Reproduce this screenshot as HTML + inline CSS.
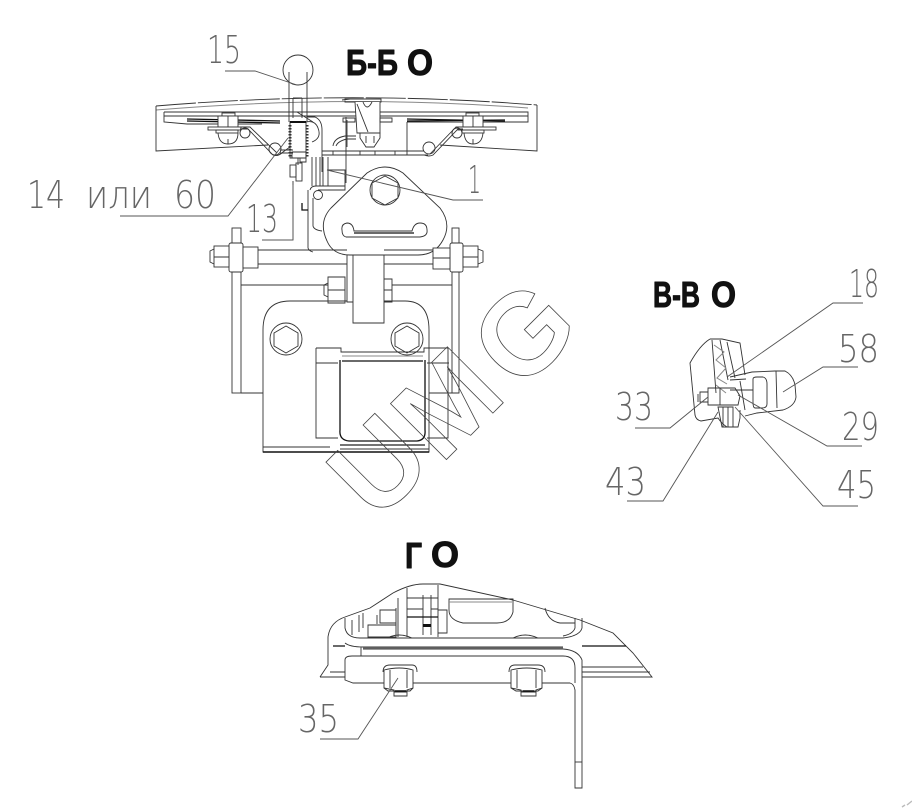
<!DOCTYPE html>
<html>
<head>
<meta charset="utf-8">
<style>
html,body{margin:0;padding:0;background:#fff;width:912px;height:808px;overflow:hidden}
svg{display:block}
.l{font-family:"DejaVu Sans ExtraLight","DejaVu Sans Light","Liberation Sans",sans-serif;font-size:38px;fill:#666}
.t{font-family:"Liberation Sans","DejaVu Sans",sans-serif;font-weight:bold;font-size:36px;fill:#111;stroke:#111;stroke-width:1;stroke-linejoin:round}
.c{fill:none;stroke:#333;stroke-width:.9}
.g{fill:none;stroke:#888;stroke-width:1}
.k{fill:none;stroke:#111;stroke-width:1.3}
.w{fill:#fff;stroke:#333;stroke-width:.9}
.ld{fill:none;stroke:#555;stroke-width:.9}
.wm{font-family:"Liberation Sans",sans-serif;font-weight:bold;font-size:115px;fill:none;stroke:#444;stroke-width:.8}
</style>
</head>
<body>
<svg width="912" height="808" viewBox="0 0 912 808" xmlns="http://www.w3.org/2000/svg">

<!-- ===== Б-Б view ===== -->
<g class="c">
<!-- shield -->
<path d="M156,106Q347,90 537,105" stroke-dasharray="40 2"/>
<path class="g" d="M156,110Q347,94 528,108"/>
<path d="M156,106V151Q210,148 268,145"/>
<path d="M537,105V151Q490,148 440,145"/>
<!-- plate -->
<path d="M164,112H528V122H407M164,116H528M164,112V122L187,124H262"/>
</g>
<path class="k" d="M187,119L280,121M187,121L280,123"/>
<path class="k" d="M407,119L505,121M407,121L505,120"/>

<!-- left bolt + wire -->
<g class="c">
<rect x="222" y="113" width="13" height="3"/>
<rect x="218" y="116" width="20" height="11" fill="#fff"/>
<path d="M228,116V127"/>
<rect x="208" y="127" width="33" height="3" fill="#fff"/>
<rect x="216" y="130" width="22" height="3"/>
<path d="M218,133Q219,144 228,144Q238,144 238,133M228,144V139"/>
<circle cx="245" cy="133" r="5"/>
<circle cx="275" cy="149" r="6"/>
<path d="M240,127H250L277,153M240,129H248L273,155Q278,157 283,152L290,147"/>
<path d="M280,150H293M280,153H293"/>
<!-- right bolt + wire -->
<rect x="466" y="113" width="13" height="3"/>
<rect x="463" y="116" width="20" height="11" fill="#fff"/>
<path d="M473,116V127"/>
<rect x="458" y="127" width="38" height="3" fill="#fff"/>
<rect x="462" y="130" width="22" height="3"/>
<path d="M464,133Q465,144 473,144Q482,144 483,133M473,144V139"/>
<circle cx="457" cy="133" r="5"/>
<circle cx="429" cy="148" r="6"/>
<path d="M463,127H456L430,154M463,129H458L433,155Q429,157 424,155"/>
<!-- rod -->
<path d="M322,151H424M322,155H428M333,151V155M360,151V155M375,151V155M395,151V155"/>
<path d="M346,117V183M407,122V155"/>
<!-- handle and ball -->
<circle cx="298" cy="70" r="15"/>
<path d="M289,72V122M307,72V122M293,98H302M293,98V118M302,98V118M297,112L313,122"/>
<!-- spring body -->
<path d="M290,122H306V158H290Z"/>
<path d="M292,152H306V162H300V158H292Z"/>
<path d="M298,158V165"/>
<path d="M307,117H315Q322,120 322,130V172"/>
<path d="M306,122Q315,120 318,128Q322,138 312,142"/>
<!-- side bolt -->
<rect x="290" y="165" width="6" height="12"/>
<rect x="296" y="163" width="6" height="18"/>
<path d="M293,181V240M262,240H293"/>
<!-- central housing -->
<path d="M345,99H381V102H345ZM350,99L342,100"/>
<path d="M355,102L357,133H380V102" fill="#fff"/>
<path d="M357,104L368,132M363,102Q367,112 372,102"/>
<path d="M343,122H355V118H343ZM380,118H392V122H380Z"/>
<path d="M360,133H380V138L374,147H366L360,138Z"/>
<path d="M366,136V143M374,136V143"/>
<path d="M333,146Q334,138 345,136H356M336,146Q338,141 347,139H356"/>
<path d="M347,147V120"/>
<!-- stacked lines -->
<path d="M308,190V248Q309,251 313,252"/>
<path d="M313,198V226Q314,230 322,231"/>
<path d="M310,190Q311,186 316,186H345V190H318"/>
<circle cx="318" cy="195" r="4.5"/>
<path d="M327,170H345V186"/>
</g>
<path class="c" d="M312,157V186M316,157V186M320,157V186M323,157V186M328,157V186" stroke-width="1.1"/>
<path class="k" d="M302,203V210H308"/>
<path d="M290,125V158" stroke="#333" stroke-width="3" stroke-dasharray="1.5 1.5" fill="none"/>
<path d="M307,125V158" stroke="#333" stroke-width="3" stroke-dasharray="1.5 1.5" fill="none"/>
<path d="M290,122H306" stroke="#111" stroke-width="2"/>

<!-- triangular plate -->
<g class="c">
<path class="w" d="M367,173Q385,161 403,173L440,208Q452,224 443,240Q435,255 418,255H350Q333,255 327,241Q318,222 331,208Z"/>
<circle cx="385" cy="190" r="15"/>
<path d="M385,176L398,183V198L385,205L372,198V183Z"/>
<path d="M346,237H420Q428,236 427,230Q427,223 420,223Q414,223 412,231H354Q353,223 347,223Q341,224 342,230Q342,236 346,237Z"/>
</g>
<path class="k" d="M354,233H414"/>

<!-- lower bracket -->
<g class="c">
<rect x="232" y="228" width="9" height="165"/>
<rect x="452" y="228" width="7" height="165"/>
<path d="M258,250H347M258,264H347M384,250H433M384,264H433"/>
<rect x="229" y="243" width="14" height="29" rx="2" fill="#fff"/>
<rect x="214" y="246" width="15" height="21" fill="#fff"/>
<path d="M214,257H229M243,257H258"/>
<path d="M214,249L210,251V262L214,264"/>
<rect x="243" y="247" width="15" height="21" fill="#fff"/>
<rect x="450" y="243" width="13" height="29" rx="2" fill="#fff"/>
<rect x="433" y="248" width="17" height="21" fill="#fff"/>
<rect x="463" y="246" width="15" height="21" fill="#fff"/>
<path d="M433,258H450M463,257H478"/>
<path d="M478,249L483,251V262L478,264"/>
<path d="M347,255V302H353M353,255V323H384V255"/>
<path d="M241,285H328M392,285H452"/>
<path class="w" d="M328,277H345V303H328Z"/>
<path d="M328,283L324,285V295L328,297M328,290H345"/>
<path d="M384,279H392V302H384M384,290H392"/>
<path d="M347,301H290Q263,301 263,330V452H429V330Q429,301 405,301H384"/>
<path d="M241,393H263M429,393H459"/>
<path d="M263,447H330M340,449H429"/>
<circle cx="286" cy="339" r="16"/>
<path d="M286,326L298,333V346L286,353L274,346V333Z"/>
<circle cx="407" cy="339" r="16"/>
<path d="M407,326L419,333V346L407,353L395,346V333Z"/>
<path d="M316,348H341V352H424V348H448V438H427M316,348V438H338M316,363H338M427,363H449"/>
<path class="g" d="M342,356H423"/>
</g>
<path class="k" d="M342,361H423M340,360V430Q339,440 349,441H417Q426,440 425,430V360"/>
<path d="M263,452H429" stroke="#111" stroke-width="1.4" fill="none"/>
<path d="M340,445H425" stroke="#222" stroke-width="1.2" fill="none"/>

<!-- watermark -->
<text class="wm" x="377" y="523" transform="rotate(-45 377 523)">U</text>
<text class="wm" x="441" y="465" transform="rotate(-45 441 465)">M</text>
<text class="wm" x="520" y="393" transform="rotate(-45 520 393)">G</text>

<!-- ===== В-В view ===== -->
<g class="c">
<path d="M710,339Q700,345 690,363L695,415Q696,420 701,421L718,418Q722,424 727,427H738L740,418V410"/>
<path d="M710,339H722L740,343L745,375"/>
<path d="M712,340L716,393M720,340L728,380M727,342L735,378"/>
<path class="g" d="M714,345L724,352L716,360L726,368L717,378L727,384M716,385L726,393"/>
<path d="M730,377L752,372L775,371H785Q793,375 795,385L796,397Q795,406 783,410L757,413L745,416"/>
<path d="M730,380L746,379M730,390H753M776,371L777,408"/>
<path d="M740,381L745,410"/>
<path d="M700,392H708V388H735L740,396L738,405H708V402H700ZM708,388V405M720,388V405"/>
<path d="M698,394V402"/>
<path d="M718,407H733V427H722ZM723,407V427M728,407V427"/>
</g>
<path class="c" stroke-width="1.1" d="M753,379Q753,377 757,377H763Q767,378 767,384V404Q767,408 762,408H755Q753,408 753,402Z"/>

<!-- ===== Г view ===== -->
<g class="c">
<path d="M320,677L328,665V637Q330,622 345,617L370,608L393,593Q410,584 423,584H440L513,600L580,620L613,633L633,653L652,677H582"/>
<path d="M320,677H345M330,672H345M582,672H650M582,667H643"/>
<path d="M345,618V628Q347,638 360,638H563Q580,636 582,628V618M575,618V628Q573,634 563,636"/>
<path d="M345,643Q350,647 363,647H563M363,649H563Q578,650 582,660V788H575V690Q574,684 570,683H353L345,680V660Q345,656 352,656H563Q575,656 575,668V683M361,647V656"/>
<path d="M575,762H582"/>
<path d="M407,588V637M438,585V637M423,595V635M431,595V635M407,598H438M407,609H423M431,609H438"/>
<path d="M438,610H447V633H438M398,598V637M396,608V637M380,610H396V623H380ZM377,615V624M368,625H396V637H368ZM359,615V632M363,613V628M352,620V635"/>
<path d="M449,599H513V612Q510,623 497,623H463Q449,620 449,610Z"/>
<path d="M545,608Q548,621 560,623H575"/>
<path d="M387,638Q399,632 412,638M513,638Q525,632 538,638"/>
<path d="M383,672Q383,665 390,665H412Q417,665 417,672"/>
<path class="w" d="M384,670Q400,666 413,670V688L407,690V696H394V690L384,688Z"/>
<path d="M390,670V688M407,670V688M384,688L388,691H410L413,688M394,692H407"/>
<path d="M509,672Q509,665 515,665H538Q545,665 545,672"/>
<path class="w" d="M511,670Q527,666 542,670V688L536,690V696H521V690L511,688Z"/>
<path d="M517,670V688M536,670V688M511,688L516,691H538L542,688M521,692H536"/>
</g>
<path class="g" d="M363,648H563M449,602H512"/>
<path class="k" d="M407,617H438M333,646H345M582,646H626"/>
<rect x="423" y="624" width="8" height="3" fill="#111"/>
<path d="M395,691H406M523,691H534" stroke="#111" stroke-width="1.5"/>

<!-- corner mark -->
<path d="M902,807L905,805M907,805L912,801" stroke="#bbb" stroke-width="1.4" fill="none"/>

<!-- leaders -->
<g class="ld">
<path d="M225,71H255L297,85"/>
<path d="M120,216H228L288,138"/>
<path d="M262,240H293V185"/>
<path d="M483,200H453L327,170"/>
<path d="M863,303H833L727,377"/>
<path d="M858,367H823L783,392"/>
<path d="M862,446H827L738,395"/>
<path d="M858,506H823L735,407"/>
<path d="M627,501H663L718,412"/>
<path d="M635,428H670L708,397"/>
<path d="M320,739H358L398,678"/>
</g>

<!-- labels -->
<text class="l" x="207" y="63" textLength="34" lengthAdjust="spacingAndGlyphs">15</text>
<text class="l" x="27" y="208" textLength="38" lengthAdjust="spacingAndGlyphs">14</text>
<text class="l" x="86" y="208" textLength="66" lengthAdjust="spacingAndGlyphs">или</text>
<text class="l" x="174" y="208" textLength="42" lengthAdjust="spacingAndGlyphs">60</text>
<text class="l" x="246" y="232" textLength="32" lengthAdjust="spacingAndGlyphs">13</text>
<text class="l" x="468" y="193" textLength="13" lengthAdjust="spacingAndGlyphs">1</text>
<text class="l" x="849" y="297" textLength="30" lengthAdjust="spacingAndGlyphs">18</text>
<text class="l" x="838" y="362" textLength="41" lengthAdjust="spacingAndGlyphs">58</text>
<text class="l" x="842" y="440" textLength="37" lengthAdjust="spacingAndGlyphs">29</text>
<text class="l" x="615" y="420" textLength="38" lengthAdjust="spacingAndGlyphs">33</text>
<text class="l" x="605" y="495" textLength="41" lengthAdjust="spacingAndGlyphs">43</text>
<text class="l" x="837" y="498" textLength="39" lengthAdjust="spacingAndGlyphs">45</text>
<text class="l" x="298" y="732" textLength="41" lengthAdjust="spacingAndGlyphs">35</text>

<!-- titles -->
<text class="t" x="346" y="75" textLength="52" lengthAdjust="spacingAndGlyphs">Б-Б</text>
<text class="t" x="407" y="75" textLength="26" lengthAdjust="spacingAndGlyphs">О</text>
<text class="t" x="653" y="307" textLength="47" lengthAdjust="spacingAndGlyphs" font-size="32">В-В</text>
<text class="t" x="711" y="307" textLength="25" lengthAdjust="spacingAndGlyphs" font-size="32">О</text>
<text class="t" x="405" y="568" textLength="17" lengthAdjust="spacingAndGlyphs">Г</text>
<text class="t" x="431" y="567" textLength="28" lengthAdjust="spacingAndGlyphs" font-size="32">О</text>
</svg>
</body>
</html>
